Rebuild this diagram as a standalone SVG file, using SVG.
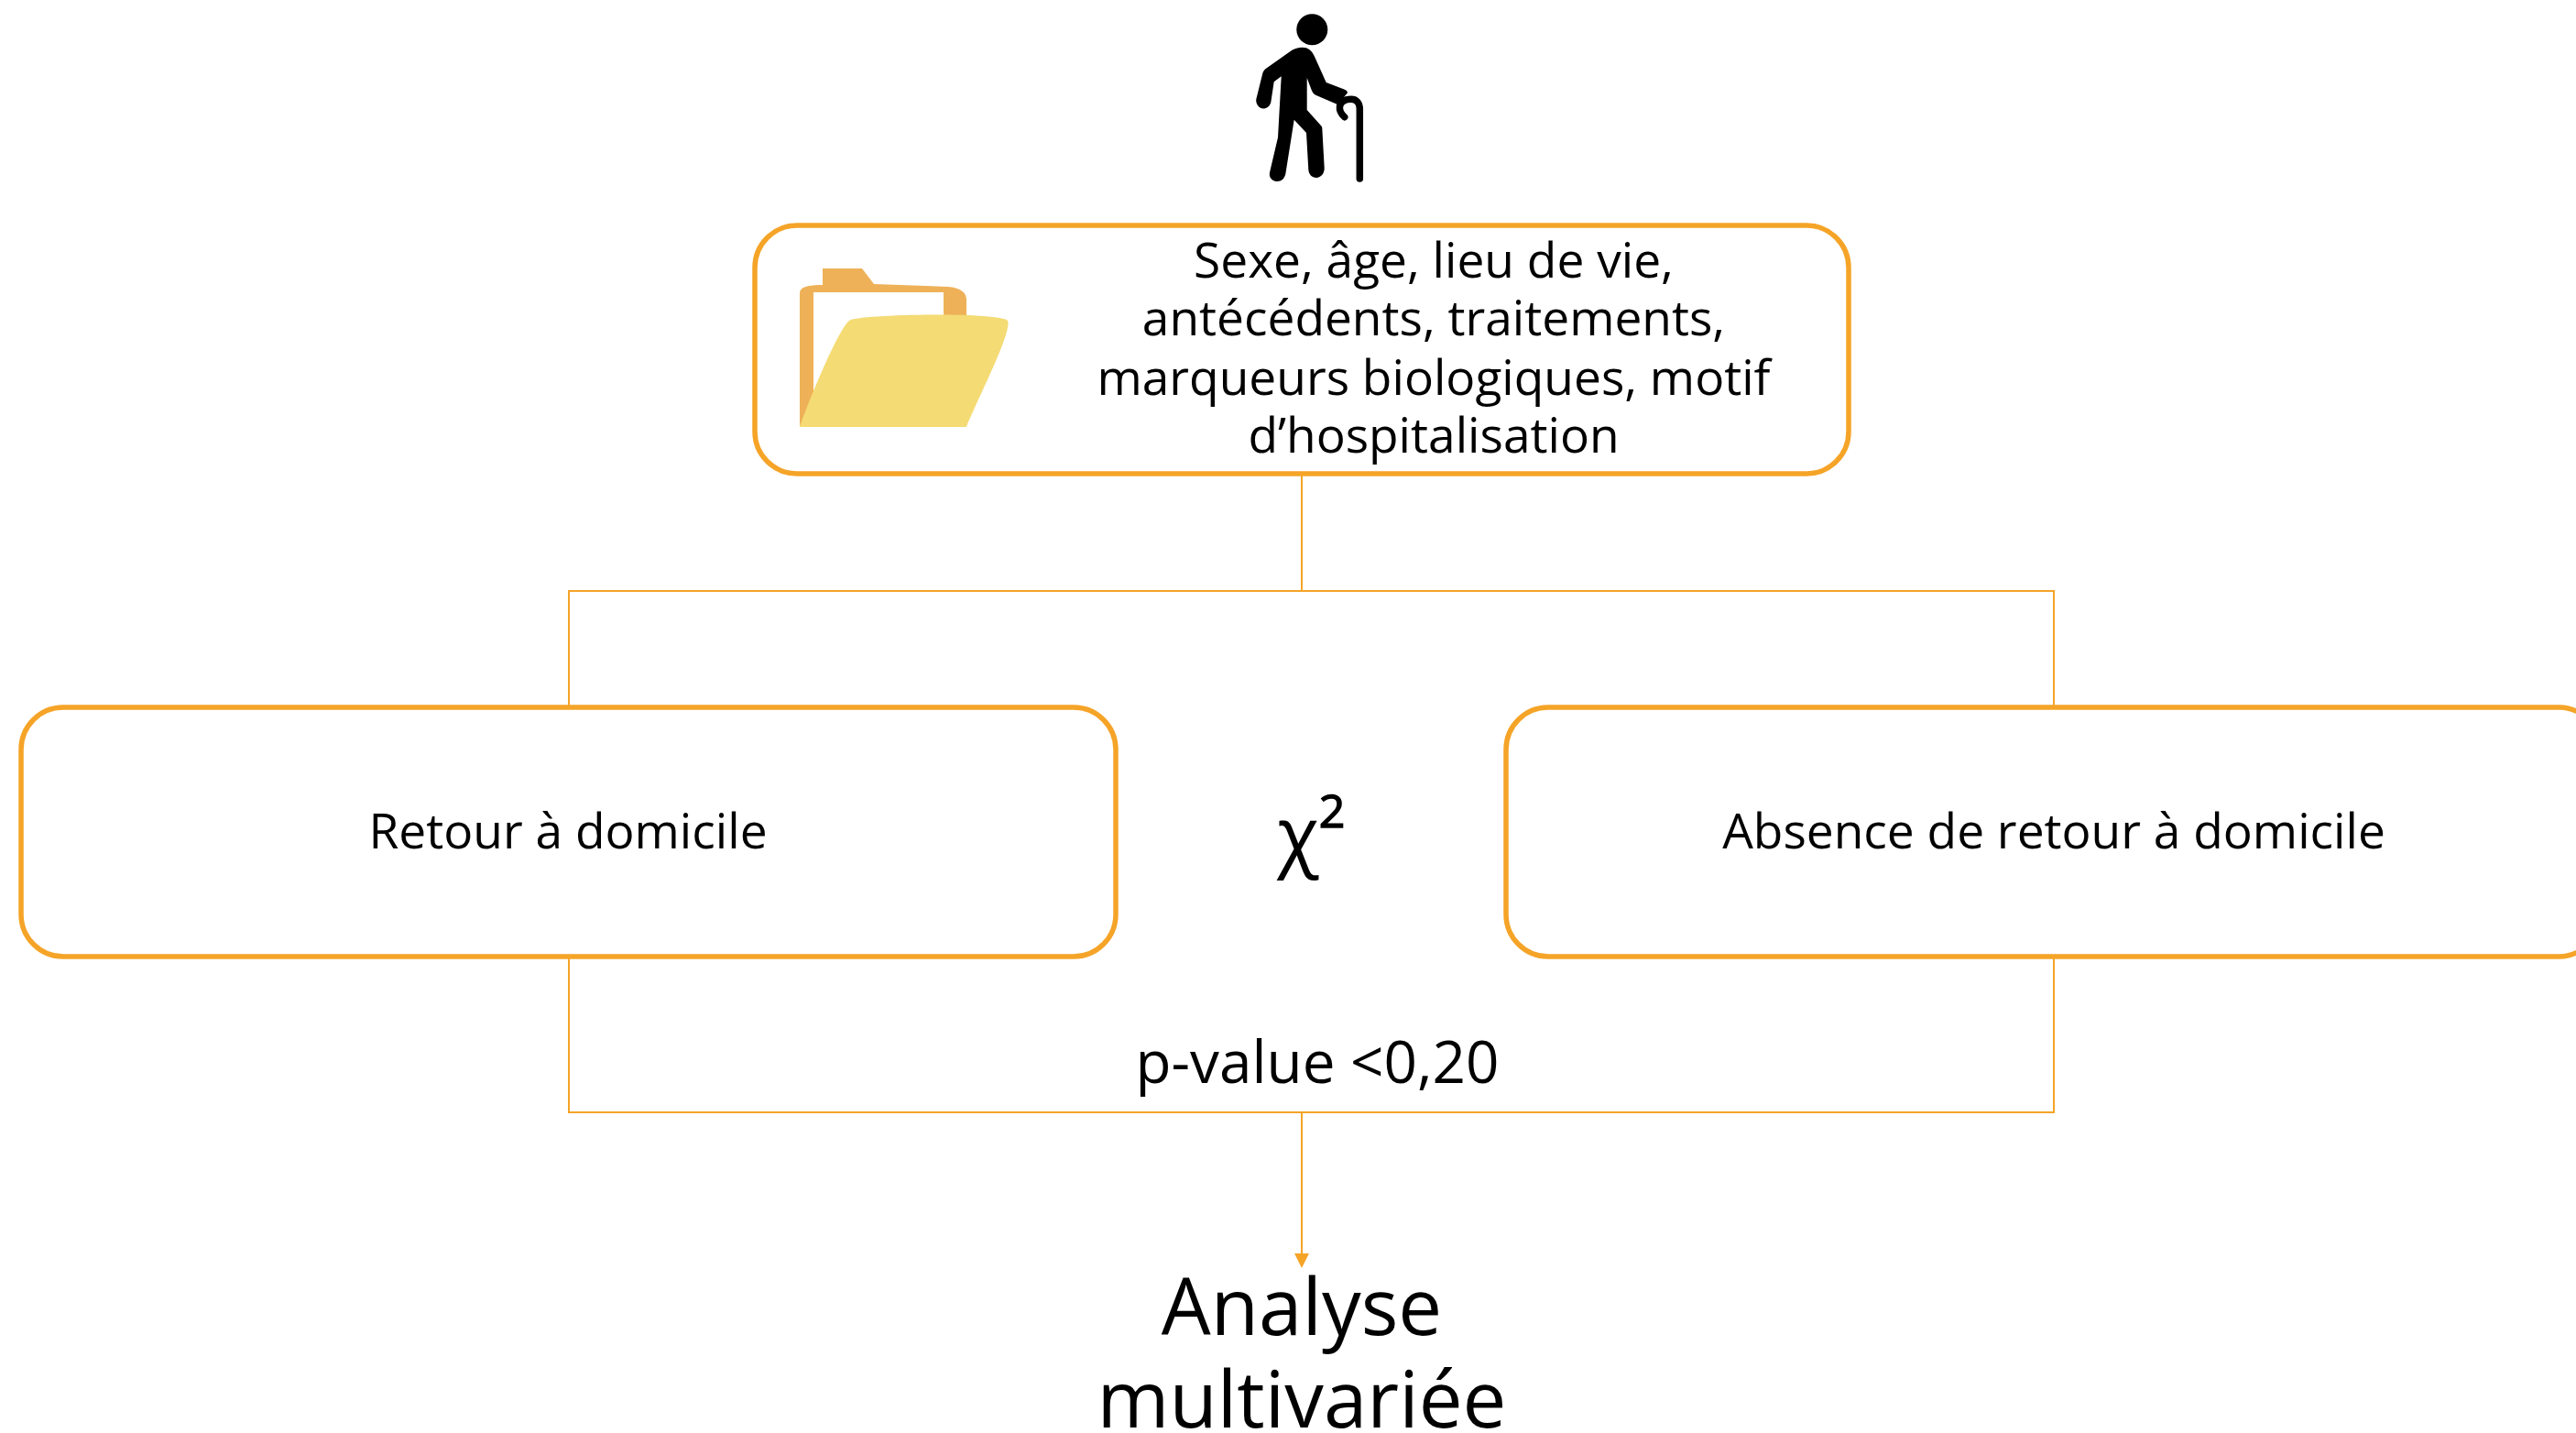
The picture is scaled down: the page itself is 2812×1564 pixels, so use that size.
<svg xmlns="http://www.w3.org/2000/svg" width="2812" height="1564" viewBox="0 0 2812 1564">
<style>
.box{fill:#fff;stroke:#F5A428;stroke-width:5.5}
.conn{fill:none;stroke:#F5A428;stroke-width:2}
text{font-family:"Open Sans","Noto Sans",sans-serif;fill:#000;text-anchor:middle}
.t{font-size:53.25px}
.b{font-size:85.3px}
</style>
<rect width="2812" height="1564" fill="#fff"/>
<g id="connectors">
<path class="conn" d="M1421 517V645M621 772V645H2242V772M621 1044V1214H2242V1044M1421 1214V1370"/>
<path d="M1413 1368H1429L1421 1384Z" fill="#F5A428"/>
</g>
<g id="person">
<circle cx="1432.3" cy="32.3" r="17"/>
<path d="M1421.7 51.7C1428 51.7 1432 55 1435 61.7L1447.7 90L1466.7 97.3C1470 98.5 1471.5 100 1470.7 101.7L1460 114L1436.7 104C1434 103 1433 101 1431.7 98.3L1426.7 85V120L1441.7 136.7C1443 138 1443.3 139 1443.3 140L1445.7 183.3C1446 189 1442 194 1437 194C1432 194 1428.5 190 1428.3 185L1426 145L1412.7 130.7L1403.3 190C1402 195 1399 198 1394 198C1388 198 1385 193 1386 188.3L1395 150L1398.7 83.3L1390.7 89.3L1387.3 111.7C1386 116 1383 118.5 1379 118.5C1374 118.5 1370.5 113 1371.3 108.3L1378.3 80C1379 78 1380 76 1381.7 75L1410 55C1413 53 1417 51.7 1421.7 51.7Z"/>
<path d="M1467.7 127.7C1463.5 124 1462 120 1462.5 116C1463.5 111 1468 108.3 1475 108.3C1481 108.3 1484.3 113 1484.3 119V195" fill="none" stroke="#000" stroke-width="7.5" stroke-linecap="round"/>
</g>
<g id="record">
<rect class="box" x="824" y="246" width="1194" height="271" rx="46"/>
<g id="folder">
<path d="M873 466V320C873 313 882 311 898 311V293H941L954 310L1035 313C1048 314 1055 319 1055 327V344H1030V319H888V430Z" fill="#EEB158"/>
<path d="M873 466C885 432 915 360 927 350C935 343 1090 340 1100 350C1105 362 1070 430 1055 466Z" fill="#F4DB74"/>
</g>
<text class="t"><tspan x="1565" y="303">Sexe, âge, lieu de vie,</tspan><tspan x="1565" y="366">antécédents, traitements,</tspan><tspan x="1565" y="431">marqueurs biologiques, motif</tspan><tspan x="1565" y="494">d’hospitalisation</tspan></text>
</g>
<g id="retour">
<rect class="box" x="23" y="772" width="1195" height="272" rx="46"/>
<text class="t" x="620" y="926">Retour à domicile</text>
</g>
<g id="chi2">
<text x="1417" y="941" font-size="84">χ</text>
<text x="1454" y="903" font-size="50" stroke="#000" stroke-width="1.4">2</text>
</g>
<g id="absence">
<rect class="box" x="1644" y="772" width="1195" height="272" rx="46"/>
<text class="t" x="2242" y="926">Absence de retour à domicile</text>
</g>
<text id="pvalue" x="1438" y="1182" style="font-size:63.8px">p-value &lt;0,20</text>
<g id="analyse">
<text class="b" x="1421" y="1457">Analyse</text>
<text class="b" x="1421" y="1558">multivariée</text>
</g>
</svg>
